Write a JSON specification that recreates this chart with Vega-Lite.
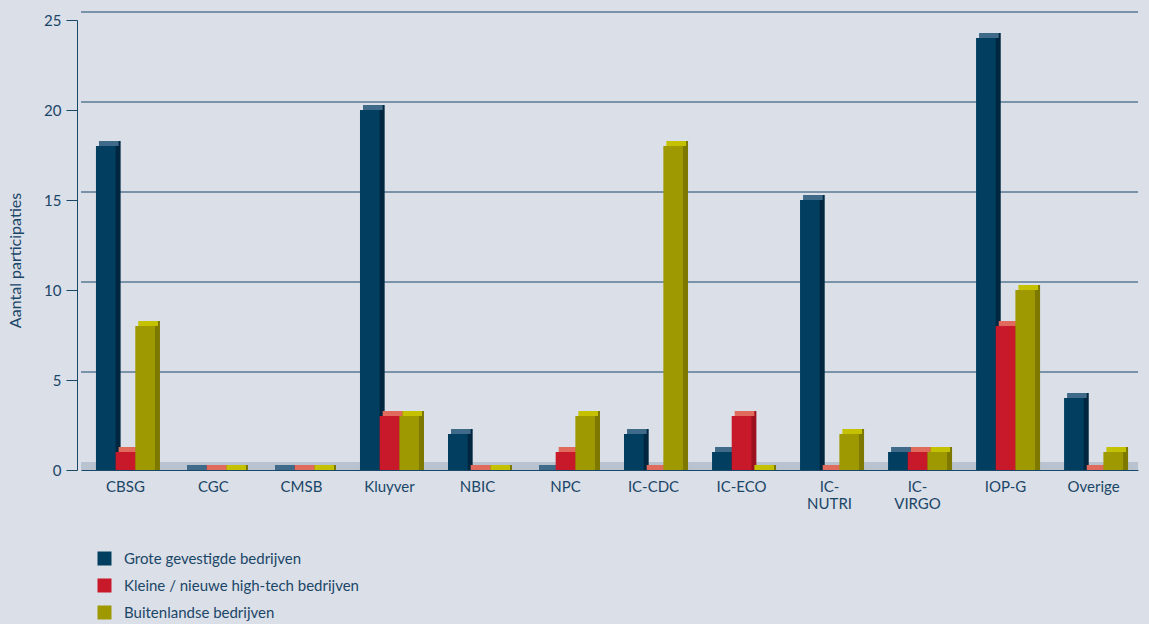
{
  "$schema": "https://vega.github.io/schema/vega-lite/v6.json",
  "autosize": {"type": "none"},
  "width": 1057,
  "height": 450,
  "padding": {"left": 81, "top": 20, "right": 11, "bottom": 154},
  "background": "#dbdfe7",
  "config": {
    "view": {"stroke": null},
    "font": "Lato",
    "axis": {"labelColor": "#1a4668", "titleColor": "#1a4668", "domainColor": "#1a4668", "tickColor": "#1a4668"},
    "legend": {"labelColor": "#1a4668"}
  },
  "datasets": {
    "main": [
      {"cat": "CBSG", "series": "Grote gevestigde bedrijven", "value": 18},
      {"cat": "CBSG", "series": "Kleine / nieuwe high-tech bedrijven", "value": 1},
      {"cat": "CBSG", "series": "Buitenlandse bedrijven", "value": 8},
      {"cat": "CGC", "series": "Grote gevestigde bedrijven", "value": 0},
      {"cat": "CGC", "series": "Kleine / nieuwe high-tech bedrijven", "value": 0},
      {"cat": "CGC", "series": "Buitenlandse bedrijven", "value": 0},
      {"cat": "CMSB", "series": "Grote gevestigde bedrijven", "value": 0},
      {"cat": "CMSB", "series": "Kleine / nieuwe high-tech bedrijven", "value": 0},
      {"cat": "CMSB", "series": "Buitenlandse bedrijven", "value": 0},
      {"cat": "Kluyver", "series": "Grote gevestigde bedrijven", "value": 20},
      {"cat": "Kluyver", "series": "Kleine / nieuwe high-tech bedrijven", "value": 3},
      {"cat": "Kluyver", "series": "Buitenlandse bedrijven", "value": 3},
      {"cat": "NBIC", "series": "Grote gevestigde bedrijven", "value": 2},
      {"cat": "NBIC", "series": "Kleine / nieuwe high-tech bedrijven", "value": 0},
      {"cat": "NBIC", "series": "Buitenlandse bedrijven", "value": 0},
      {"cat": "NPC", "series": "Grote gevestigde bedrijven", "value": 0},
      {"cat": "NPC", "series": "Kleine / nieuwe high-tech bedrijven", "value": 1},
      {"cat": "NPC", "series": "Buitenlandse bedrijven", "value": 3},
      {"cat": "IC-CDC", "series": "Grote gevestigde bedrijven", "value": 2},
      {"cat": "IC-CDC", "series": "Kleine / nieuwe high-tech bedrijven", "value": 0},
      {"cat": "IC-CDC", "series": "Buitenlandse bedrijven", "value": 18},
      {"cat": "IC-ECO", "series": "Grote gevestigde bedrijven", "value": 1},
      {"cat": "IC-ECO", "series": "Kleine / nieuwe high-tech bedrijven", "value": 3},
      {"cat": "IC-ECO", "series": "Buitenlandse bedrijven", "value": 0},
      {"cat": "IC-NUTRI", "series": "Grote gevestigde bedrijven", "value": 15},
      {"cat": "IC-NUTRI", "series": "Kleine / nieuwe high-tech bedrijven", "value": 0},
      {"cat": "IC-NUTRI", "series": "Buitenlandse bedrijven", "value": 2},
      {"cat": "IC-VIRGO", "series": "Grote gevestigde bedrijven", "value": 1},
      {"cat": "IC-VIRGO", "series": "Kleine / nieuwe high-tech bedrijven", "value": 1},
      {"cat": "IC-VIRGO", "series": "Buitenlandse bedrijven", "value": 1},
      {"cat": "IOP-G", "series": "Grote gevestigde bedrijven", "value": 24},
      {"cat": "IOP-G", "series": "Kleine / nieuwe high-tech bedrijven", "value": 8},
      {"cat": "IOP-G", "series": "Buitenlandse bedrijven", "value": 10},
      {"cat": "Overige", "series": "Grote gevestigde bedrijven", "value": 4},
      {"cat": "Overige", "series": "Kleine / nieuwe high-tech bedrijven", "value": 0},
      {"cat": "Overige", "series": "Buitenlandse bedrijven", "value": 1}
    ],
    "grid": [{"g": 5}, {"g": 10}, {"g": 15}, {"g": 20}, {"g": 25}]
  },
  "layer": [
    {
      "data": {"values": [{"lo": 0, "hi": 0.45}]},
      "mark": {"type": "rect", "color": "#b9c3d0"},
      "encoding": {
        "y": {"field": "lo", "type": "quantitative", "scale": {"domain": [0, 25], "nice": false},
          "axis": {"title": "Aantal participaties", "titleFontSize": 16, "titleFontWeight": "normal", "labelFontSize": 15, "values": [0, 5, 10, 15, 20, 25], "tickSize": 11, "labelPadding": 5, "offset": 4, "grid": false, "titlePadding": 20, "titleY": 240}},
        "y2": {"field": "hi"}
      }
    },
    {
      "data": {"name": "grid"},
      "mark": {"type": "rule", "color": "#1a4668", "strokeWidth": 1, "yOffset": -8},
      "encoding": {"y": {"field": "g", "type": "quantitative", "scale": {"domain": [0, 25], "nice": false}}}
    },
    {
      "data": {"name": "main"},
      "mark": {"type": "bar", "yOffset": -5, "y2Offset": -5},
      "encoding": {
        "x": {"field": "cat", "type": "nominal", "sort": null, "scale": {"paddingInner": 0.33, "paddingOuter": 0.17}},
        "xOffset": {"field": "series", "type": "nominal", "sort": null, "scale": {"range": [5, 64]}},
        "y": {"field": "value", "type": "quantitative", "stack": null, "scale": {"domain": [0, 25], "nice": false}},
        "color": {"field": "series", "type": "nominal", "sort": null, "legend": null,
          "scale": {"domain": ["Grote gevestigde bedrijven", "Kleine / nieuwe high-tech bedrijven", "Buitenlandse bedrijven"], "range": ["#012740", "#9c1020", "#7d7800"]}}
      }
    },
    {
      "data": {"name": "main"},
      "mark": {"type": "bar", "yOffset": -5, "y2Offset": 0},
      "encoding": {
        "x": {"field": "cat", "type": "nominal", "sort": null},
        "xOffset": {"field": "series", "type": "nominal", "sort": null, "scale": {"range": [3, 62]}},
        "y": {"field": "value", "type": "quantitative", "stack": null, "scale": {"domain": [0, 25], "nice": false}},
        "y2": {"field": "value"},
        "color": {"field": "series", "type": "nominal", "sort": null, "legend": null,
          "scale": {"domain": ["Grote gevestigde bedrijven", "Kleine / nieuwe high-tech bedrijven", "Buitenlandse bedrijven"], "range": ["#3f6a89", "#e06a5c", "#c4c100"]}}
      }
    },
    {
      "data": {"name": "main"},
      "mark": {"type": "bar"},
      "encoding": {
        "x": {"field": "cat", "type": "nominal", "sort": null,
          "axis": {"title": null, "labelAngle": 0, "labelAlign": "center", "labelFontSize": 15, "ticks": false, "labelPadding": 16, "domainColor": "#1a4668",
            "labelExpr": "datum.label == 'IC-NUTRI' ? ['IC-', 'NUTRI'] : datum.label == 'IC-VIRGO' ? ['IC-', 'VIRGO'] : datum.label"}},
        "xOffset": {"field": "series", "type": "nominal", "sort": null, "scale": {"range": [0, 59]}},
        "y": {"field": "value", "type": "quantitative", "stack": null, "scale": {"domain": [0, 25], "nice": false}},
        "color": {"field": "series", "type": "nominal", "sort": null,
          "scale": {"domain": ["Grote gevestigde bedrijven", "Kleine / nieuwe high-tech bedrijven", "Buitenlandse bedrijven"], "range": ["#023e5f", "#c8192b", "#9e9900"]},
          "legend": {"title": null, "orient": "none", "legendX": 16, "legendY": 531, "symbolType": "square", "symbolSize": 196, "symbolStrokeWidth": 0, "symbolOpacity": 1, "labelFontSize": 15, "labelLimit": 0, "rowPadding": 11, "labelOffset": 12}}
      }
    }
  ],
  "resolve": {"scale": {"color": "independent", "xOffset": "independent"}}
}
